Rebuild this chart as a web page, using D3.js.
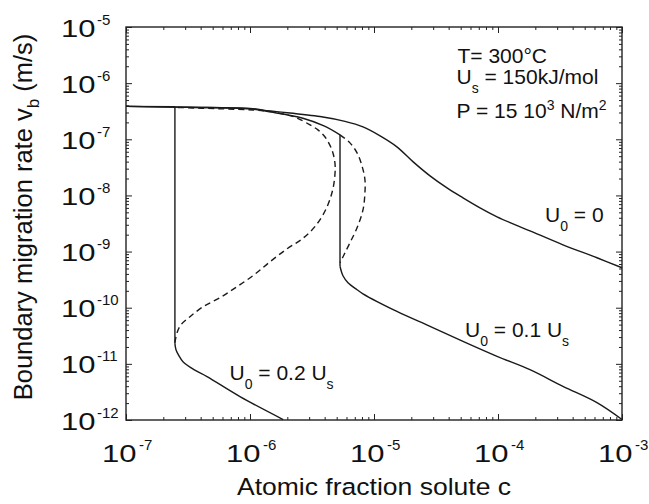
<!DOCTYPE html>
<html><head><meta charset="utf-8">
<script src="https://cdn.jsdelivr.net/npm/d3@7"></script>
<style>
body{margin:0;background:#fff}
svg{display:block}
text{font-family:"Liberation Sans",Arial,Helvetica,sans-serif;fill:#111}
</style>
</head><body>
<svg id="chart" width="649" height="504"></svg>
<script>
// ---------- data ----------
const xTickValues = [1e-7, 1e-6, 1e-5, 1e-4, 1e-3];
const xTickExp = ["-7", "-6", "-5", "-4", "-3"];
const yTickValues = [1e-5, 1e-6, 1e-7, 1e-8, 1e-9, 1e-10, 1e-11, 1e-12];
const yTickExp = ["-5", "-6", "-7", "-8", "-9", "-10", "-11", "-12"];

// U0 = 0 (solid)
const cU0 = [1e-7, 3.16e-7, 1e-6, 1.45e-6, 3.67e-6, 5.83e-6, 8.15e-6, 1.12e-5, 1.53e-5, 2.07e-5,
             2.83e-5, 3.88e-5, 5.22e-5, 7.16e-5, 9.82e-5, 1.81e-4, 3.34e-4, 6.28e-4, 1e-3];
const vU0 = [3.85e-7, 3.72e-7, 3.55e-7, 3.20e-7, 2.54e-7, 2.08e-7, 1.66e-7, 1.15e-7, 7.33e-8, 3.96e-8,
             2.23e-8, 1.36e-8, 9.06e-9, 6.01e-9, 4.16e-9, 2.34e-9, 1.32e-9, 7.76e-10, 5.15e-10];

// U0 = 0.1 Us
const cU01Upper = [1e-7, 3.16e-7, 1e-6, 1.45e-6, 2.67e-6, 3.95e-6, 5.32e-6];
const vU01Upper = [3.85e-7, 3.72e-7, 3.48e-7, 3.08e-7, 2.37e-7, 1.73e-7, 1.20e-7];
const cU01Lower = [5.32e-6, 5.62e-6, 6.17e-6, 7.30e-6, 8.15e-6, 1.53e-5, 2.83e-5, 5.22e-5, 9.82e-5,
                   1.81e-4, 3.34e-4, 6.28e-4, 1e-3];
const vU01Lower = [5.47e-10, 3.71e-10, 2.79e-10, 2.09e-10, 1.77e-10, 8.59e-11, 4.65e-11, 2.51e-11,
                   1.36e-11, 7.89e-12, 3.98e-12, 2.04e-12, 1.02e-12];
const cU01Dashed = [5.32e-6, 6.40e-6, 7.30e-6, 8.00e-6, 8.45e-6, 8.45e-6, 8.15e-6, 7.30e-6, 6.40e-6, 5.73e-6, 5.32e-6];
const vU01Dashed = [1.20e-7, 8.63e-8, 5.73e-8, 3.37e-8, 1.90e-8, 1.11e-8, 5.55e-9, 2.65e-9, 1.44e-9, 8.77e-10, 6.32e-10];

// U0 = 0.2 Us
const cU02Upper = [1e-7, 2.48e-7];
const vU02Upper = [3.85e-7, 3.80e-7];
const cU02Lower = [2.48e-7, 2.53e-7, 2.67e-7, 2.88e-7, 3.53e-7, 4.50e-7, 8.30e-7, 1.85e-6];
const vU02Lower = [2.29e-11, 1.79e-11, 1.40e-11, 1.09e-11, 7.89e-12, 5.92e-12, 2.61e-12, 1.02e-12];
const cU02Dashed = [2.48e-7, 2.58e-7, 2.78e-7, 3.28e-7, 4.18e-7, 5.73e-7, 7.85e-7, 1.08e-6, 1.45e-6,
                    1.99e-6, 2.67e-6, 3.38e-6, 4.10e-6, 4.62e-6, 4.84e-6, 4.84e-6, 4.58e-6, 4.03e-6,
                    3.53e-6, 3.05e-6, 2.39e-6, 1.99e-6, 1.45e-6, 1.06e-6, 6.05e-7, 2.48e-7];
const vU02Dashed = [2.38e-11, 3.59e-11, 4.99e-11, 6.92e-11, 1.04e-10, 1.51e-10, 2.37e-10, 3.86e-10, 6.59e-10,
                    1.12e-9, 1.72e-9, 2.88e-9, 5.70e-9, 1.20e-8, 2.33e-8, 3.80e-8, 6.47e-8, 1.10e-7,
                    1.47e-7, 1.80e-7, 2.40e-7, 2.72e-7, 3.13e-7, 3.33e-7, 3.48e-7, 3.70e-7];

// ---------- layout ----------
const L = 126, R = 622, T = 27, B = 420;
const svg = d3.select("#chart");
svg.append("rect").attr("width", 649).attr("height", 504).attr("fill", "#fff");

const x = d3.scaleLog().domain([1e-7, 1e-3]).range([L, R]);
const y = d3.scaleLog().domain([1e-12, 1e-5]).range([B, T]);

function minorTicks(majors) {
  const out = [];
  const lo = d3.min(majors), hi = d3.max(majors);
  majors.forEach(d => { if (d < hi) for (let k = 2; k <= 9; k++) out.push(d * k); });
  return out.filter(v => v > lo && v < hi);
}
const xMinor = minorTicks(xTickValues);
const yMinor = minorTicks(yTickValues);

function drawAxis(axisFn, scale, vals, size, transform) {
  const g = svg.append("g").attr("transform", transform)
    .call(axisFn(scale).tickValues(vals).tickSize(-size).tickFormat(""));
  g.select(".domain").remove();
  g.selectAll(".tick line").attr("stroke", "#222").attr("stroke-width", 1);
}
drawAxis(d3.axisBottom, x, xTickValues, 6, `translate(0,${B})`);
drawAxis(d3.axisBottom, x, xMinor, 3, `translate(0,${B})`);
drawAxis(d3.axisTop, x, xTickValues, 6, `translate(0,${T})`);
drawAxis(d3.axisTop, x, xMinor, 3, `translate(0,${T})`);
drawAxis(d3.axisLeft, y, yTickValues, 6, `translate(${L},0)`);
drawAxis(d3.axisLeft, y, yMinor, 3, `translate(${L},0)`);
drawAxis(d3.axisRight, y, yTickValues, 6, `translate(${R},0)`);
drawAxis(d3.axisRight, y, yMinor, 3, `translate(${R},0)`);

svg.append("rect").attr("x", L).attr("y", T).attr("width", R - L).attr("height", B - T)
  .attr("fill", "none").attr("stroke", "#222").attr("stroke-width", 1.4);

// ---------- tick labels ----------
const xl = svg.append("g");
xTickValues.forEach((v, i) => {
  xl.append("text").attr("x", x(v) - 24).attr("y", 462).attr("font-size", 23)
    .attr("textLength", 34.5).attr("lengthAdjust", "spacingAndGlyphs").text("10");
  xl.append("text").attr("x", x(v) + 13).attr("y", 450).attr("font-size", 15).text(xTickExp[i]);
});
const yl = svg.append("g");
yTickValues.forEach((v, i) => {
  yl.append("text").attr("x", 61).attr("y", y(v) + 9.5).attr("font-size", 23)
    .attr("textLength", 34.5).attr("lengthAdjust", "spacingAndGlyphs").text("10");
  yl.append("text").attr("x", 97).attr("y", y(v) - 2.5).attr("font-size", 15).text(yTickExp[i]);
});

// ---------- axis titles ----------
svg.append("text").attr("x", 374).attr("y", 495).attr("text-anchor", "middle")
  .attr("font-size", 24.5).attr("textLength", 274).attr("lengthAdjust", "spacingAndGlyphs")
  .text("Atomic fraction solute c");

const yt = svg.append("text").attr("transform", "translate(31.5,217) rotate(-90)")
  .attr("text-anchor", "middle").attr("font-size", 25.5);
yt.append("tspan").text("Boundary migration rate v");
yt.append("tspan").attr("font-size", 17).attr("dy", 7).text("b");
yt.append("tspan").attr("dy", -7).text(" (m/s)");

// ---------- curves ----------
const zip = (cs, vs) => cs.map((c, i) => [c, vs[i]]);
const smooth = d3.line().x(d => x(d[0])).y(d => y(d[1])).curve(d3.curveCatmullRom.alpha(0.5));
const straight = d3.line().x(d => x(d[0])).y(d => y(d[1]));
const plot = svg.append("g").attr("fill", "none").attr("stroke", "#1a1a1a").attr("stroke-width", 1.4);

function solid(path, gen) { plot.append("path").attr("d", gen(path)); }
function dashed(path) { plot.append("path").attr("d", smooth(path)).attr("stroke-dasharray", "6,4"); }

// U0 = 0
solid(zip(cU0, vU0), smooth);
// U0 = 0.1 Us
solid(zip(cU01Upper, vU01Upper), smooth);
solid([[cU01Upper[cU01Upper.length - 1], vU01Upper[vU01Upper.length - 1]], [cU01Lower[0], vU01Lower[0]]], straight);
solid(zip(cU01Lower, vU01Lower), smooth);
dashed(zip(cU01Dashed, vU01Dashed));
// U0 = 0.2 Us
solid(zip(cU02Upper, vU02Upper), straight);
solid([[cU02Upper[1], vU02Upper[1]], [cU02Lower[0], vU02Lower[0]]], straight);
solid(zip(cU02Lower, vU02Lower), smooth);
dashed(zip(cU02Dashed, vU02Dashed));

// ---------- annotations ----------
function subLabel(xp, yp, parts) {
  const t = svg.append("text").attr("x", xp).attr("y", yp).attr("font-size", 21);
  let shift = 0;
  parts.forEach(p => {
    const s = t.append("tspan").text(p.t);
    const target = p.sub ? 9 : (p.sup ? -8 : 0);
    s.attr("dy", target - shift);
    shift = target;
    if (p.sub || p.sup) s.attr("font-size", 14);
  });
}
subLabel(545, 222, [{t: "U"}, {t: "0", sub: 1}, {t: " = 0"}]);
subLabel(465, 337, [{t: "U"}, {t: "0", sub: 1}, {t: " = 0.1 U"}, {t: "s", sub: 1}]);
subLabel(229.5, 380, [{t: "U"}, {t: "0", sub: 1}, {t: " = 0.2 U"}, {t: "s", sub: 1}]);

subLabel(457.5, 63, [{t: "T= 300°C"}]);
subLabel(456.5, 84, [{t: "U"}, {t: "s", sub: 1}, {t: " = 150kJ/mol"}]);
subLabel(456.5, 118, [{t: "P = 15 10"}, {t: "3", sup: 1}, {t: " N/m"}, {t: "2", sup: 1}]);
</script>
</body></html>
